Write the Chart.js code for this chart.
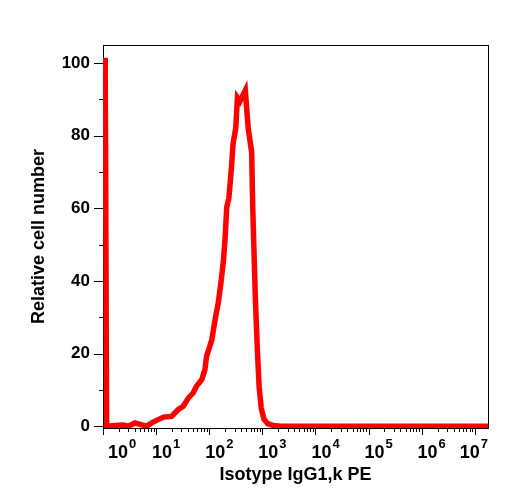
<!DOCTYPE html>
<html>
<head>
<meta charset="utf-8">
<script src="https://cdn.jsdelivr.net/npm/chart.js@4.4.0/dist/chart.umd.min.js"></script>
<style>
  html, body { margin: 0; padding: 0; background: #fff; }
  #wrap { width: 508px; height: 500px; }
</style>
</head>
<body>
<div id="wrap"><canvas id="histChart"></canvas></div>
<script>
// PE intensity (channel value) and relative cell number
const intensity = [1.1, 1.17, 1.7, 2.4, 3.0, 4.0, 5.0, 6.6, 8.3, 10.2, 13.8, 19.5, 26.3, 32.4, 40.7,
  50.1, 57.5, 72.4, 83.2, 89.1, 112, 129, 148, 166, 186, 200, 214, 234, 251, 263, 282, 316, 340, 380,
  479, 543, 631, 661, 741, 813, 871, 955, 1072, 1259, 1585, 2239, 17800000];
const relCount = [101.5, 0, 0.2, 0.3, 0, 0.9, 0.5, 0, 0.9, 1.6, 2.5, 2.7, 4.6, 5.5, 7.8,
  9.2, 11, 12.8, 15.6, 19.2, 23.8, 29.3, 33.9, 39.4, 45.8, 52.2, 60.4, 62.7, 67.8, 71.4, 77.9, 82, 90.5, 89.5,
  92.5, 82, 75.5, 60, 35, 20, 11, 5, 2, 0.7, 0.2, 0, 0];

const yTickValues = [0, 5, 10, 15, 20, 25, 30, 35, 40, 45, 50, 55, 60, 65, 70, 75, 80, 85, 90, 95, 100];
const decades = [1, 10, 100, 1000, 10000, 100000, 1000000, 10000000];
const decadeExp = ['0', '1', '2', '3', '4', '5', '6', '7'];

const FONT = '"Liberation Sans", Arial, Helvetica, sans-serif';

const points = intensity.map((v, i) => ({ x: v, y: relCount[i] }));

// frame, tick marks and the 10^n labels
const axisDecor = {
    id: 'axisDecor',
    beforeDatasetsDraw(chart) {
        const { ctx, chartArea: a, scales: { x, y } } = chart;
        ctx.save();
        ctx.strokeStyle = '#000';
        ctx.lineWidth = 1;
        ctx.strokeRect(a.left + 0.5, a.top + 0.5, a.right - a.left, a.bottom - a.top);
        ctx.beginPath();
        y.ticks.forEach(t => {
            const py = Math.round(y.getPixelForValue(t.value)) + 0.5;
            const len = t.value % 20 === 0 ? 9 : 4;
            ctx.moveTo(a.left - len, py);
            ctx.lineTo(a.left, py);
        });
        x.ticks.forEach(t => {
            const px = Math.round(x.getPixelForValue(t.value)) + 0.5;
            const len = t.major ? 7 : 4;
            ctx.moveTo(px, a.bottom);
            ctx.lineTo(px, a.bottom + len);
        });
        ctx.stroke();
        ctx.restore();
    },
    afterDraw(chart) {
        const { ctx, chartArea: a, scales: { x } } = chart;
        ctx.save();
        ctx.fillStyle = '#000';
        ctx.textAlign = 'left';
        ctx.textBaseline = 'alphabetic';
        decades.forEach((d, i) => {
            const px = x.getPixelForValue(d);
            ctx.font = 'bold 18px ' + FONT;
            const w1 = ctx.measureText('10').width;
            ctx.font = 'bold 13px ' + FONT;
            const w2 = ctx.measureText(decadeExp[i]).width;
            let lx = px - 4;
            lx = Math.max(lx, a.left + 5);
            lx = Math.min(lx, a.right - (w1 + 1 + w2));
            ctx.font = 'bold 18px ' + FONT;
            ctx.fillText('10', lx, a.bottom + 30);
            ctx.font = 'bold 13px ' + FONT;
            ctx.fillText(decadeExp[i], lx + w1 + 1, a.bottom + 20);
        });
        ctx.restore();
    }
};

const ctx = document.getElementById('histChart').getContext('2d');

new Chart(ctx, {
    type: 'line',
    data: {
        datasets: [{
            label: 'Isotype IgG1,k PE',
            data: points,
            borderColor: 'rgb(255, 0, 0)',
            borderWidth: 5.5,
            borderJoinStyle: 'miter',
            pointRadius: 0,
            fill: false,
            tension: 0
        }]
    },
    options: {
        responsive: true,
        maintainAspectRatio: false,
        animation: false,
        layout: {
            padding: { left: 0, top: 45, right: 20, bottom: 0 }
        },
        plugins: {
            legend: { display: false },
            tooltip: { enabled: false }
        },
        scales: {
            x: {
                type: 'logarithmic',
                min: 1,
                max: 17800000,
                border: { display: false },
                grid: { display: false, drawTicks: false },
                ticks: { display: false },
                afterBuildTicks: scale => {
                    const t = [];
                    decades.forEach(d => {
                        t.push({ value: d, major: true });
                        for (let m = 2; m <= 9; m++) {
                            if (d * m <= 17800000) t.push({ value: d * m, major: false });
                        }
                    });
                    scale.ticks = t;
                },
                afterFit: scale => { scale.height = 72; },
                title: {
                    display: true,
                    text: 'Isotype IgG1,k PE',
                    color: '#000',
                    font: { family: FONT, size: 18, weight: 'bold' },
                    padding: { top: 0, bottom: 14 }
                }
            },
            y: {
                min: -0.5,
                max: 105,
                border: { display: false },
                grid: { display: false, drawTicks: false },
                afterBuildTicks: scale => {
                    scale.ticks = yTickValues.map(v => ({ value: v }));
                },
                afterFit: scale => { scale.width = 103; },
                ticks: {
                    padding: 13,
                    color: '#000',
                    font: { family: FONT, size: 17, weight: 'bold' },
                    callback: v => (v % 20 === 0 ? v : '')
                },
                title: {
                    display: true,
                    text: 'Relative cell number',
                    color: '#000',
                    font: { family: FONT, size: 18, weight: 'bold' },
                    padding: { top: 28, bottom: 0 }
                }
            }
        }
    },
    plugins: [axisDecor]
});
</script>
</body>
</html>
